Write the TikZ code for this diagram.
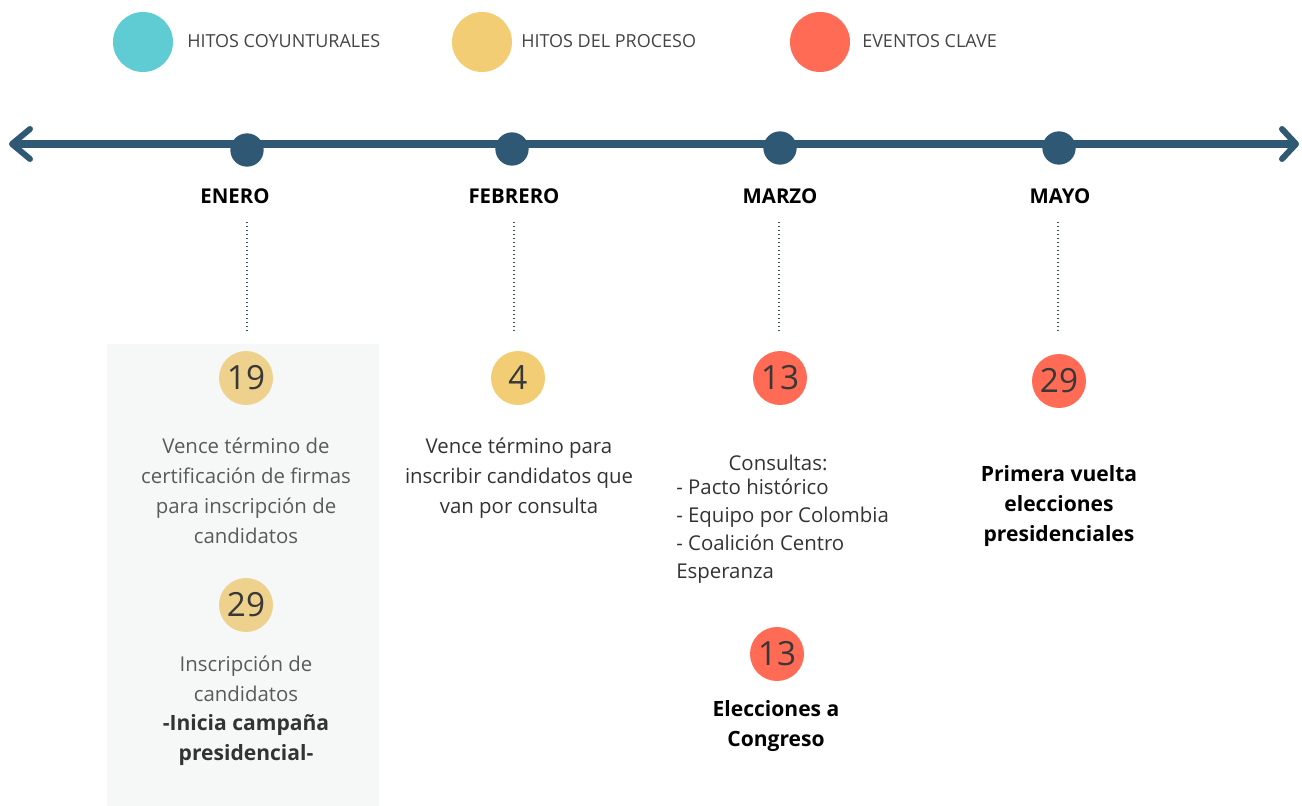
\documentclass[tikz,border=0pt]{standalone}
\usepackage{fontspec}
\setmainfont{Open Sans}
\definecolor{lineblue}{HTML}{2E5873}
\definecolor{teal}{HTML}{5FCBD3}
\definecolor{yel}{HTML}{F2CD74}
\definecolor{yelpale}{HTML}{EED18D}
\definecolor{redc}{HTML}{FF6B55}
\definecolor{panel}{HTML}{F6F8F7}
\definecolor{txtgray}{HTML}{5A5A5A}
\definecolor{legtxt}{HTML}{444444}
\begin{document}
\begin{tikzpicture}[x=0.75pt,y=-0.75pt,
  legdot/.style={circle,inner sep=0pt,minimum size=45pt},
  legtext/.style={anchor=west,inner sep=0pt,text=legtxt,font=\fontsize{13.5}{16}\selectfont},
  tdot/.style={circle,fill=lineblue,inner sep=0pt,minimum size=25pt},
  month/.style={font=\fontsize{15.3}{18}\selectfont\bfseries,text=black,inner sep=0pt},
  daydot/.style={circle,inner sep=0pt,minimum size=40.5pt,text=black!78,font=\fontsize{25}{28}\selectfont},
  desc/.style={align=center,inner sep=0pt,text=txtgray,font=\fontsize{15.3}{22.5}\selectfont},
  bolddesc/.style={align=center,inner sep=0pt,text=black,font=\fontsize{15.8}{22.5}\selectfont\bfseries},
  guide/.style={lineblue,line width=1pt,dotted},
  chev/.style={lineblue,line width=4.5pt,line cap=round,line join=round}]
\useasboundingbox (0,0) rectangle (1302,806);
% legend
\node[legdot,fill=teal] (l1) at (143,42) {};
\node[legtext] (l1t) at (187,41) {HITOS COYUNTURALES};
\node[legdot,fill=yel] (l2) at (482,42) {};
\node[legtext] (l2t) at (521,41) {HITOS DEL PROCESO};
\node[legdot,fill=redc] (l3) at (820,42) {};
\node[legtext] (l3t) at (862,41) {EVENTOS CLAVE};
% panel
\fill[panel] (107,344) rectangle (379,806);
% timeline
\coordinate (tl) at (12,144);
\coordinate (tr) at (1296,144);
\draw[lineblue,line width=6pt] (tl) -- (tr);
\draw[chev] (30,129) -- (tl) -- (30,159);
\draw[chev] (1282,129) -- (tr) -- (1282,159);
\node[tdot] (d1) at (247,150) {};
\node[tdot] (d2) at (512,149) {};
\node[tdot] (d3) at (780,148) {};
\node[tdot] (d4) at (1059,148) {};
% months
\node[month] (m1) at (235,196) {ENERO};
\node[month] (m2) at (514,196) {FEBRERO};
\node[month] (m3) at (780,196) {MARZO};
\node[month] (m4) at (1060,196) {MAYO};
% guides
\coordinate (g1a) at (247,222); \coordinate (g1b) at (247,332);
\coordinate (g2a) at (514,222); \coordinate (g2b) at (514,333);
\coordinate (g3a) at (779,222); \coordinate (g3b) at (779,333);
\coordinate (g4a) at (1058,222); \coordinate (g4b) at (1058,333);
\draw[guide] (g1a) -- (g1b);
\draw[guide] (g2a) -- (g2b);
\draw[guide] (g3a) -- (g3b);
\draw[guide] (g4a) -- (g4b);
% enero
\node[daydot,fill=yelpale] (e19) at (246,378) {19};
\node[desc] (e19t) at (246,491) {Vence término de\\certificación de firmas\\para inscripción de\\candidatos};
\node[daydot,fill=yelpale] (e29) at (246,605) {29};
\node[desc] (e29t) at (246,679) {Inscripción de\\candidatos};
\node[bolddesc,text=black!80] (e29b) at (246,740) {-Inicia campaña\\presidencial-};
% febrero
\node[daydot,fill=yel] (f4) at (518,378) {4};
\node[desc,text=black!80] (f4t) at (519,478) {Vence término para\\inscribir candidatos que\\van por consulta};
% marzo
\node[daydot,fill=redc] (m13) at (780,378) {13};
\node[desc,text=black!80,font=\fontsize{15.3}{21}\selectfont] (m13c) at (778,463) {Consultas:};
\node[desc,text=black!80,align=left,anchor=north west,font=\fontsize{15.3}{21}\selectfont] (m13t) at (676,479) {- Pacto histórico\\- Equipo por Colombia\\- Coalición Centro\\Esperanza};
\node[daydot,fill=redc] (m13b) at (777,654) {13};
\node[bolddesc] (m13bt) at (776,726) {Elecciones a\\Congreso};
% mayo
\node[daydot,fill=redc] (y29) at (1059,381) {29};
\node[bolddesc] (y29t) at (1059,506) {Primera vuelta\\elecciones\\presidenciales};
\end{tikzpicture}
\end{document}
